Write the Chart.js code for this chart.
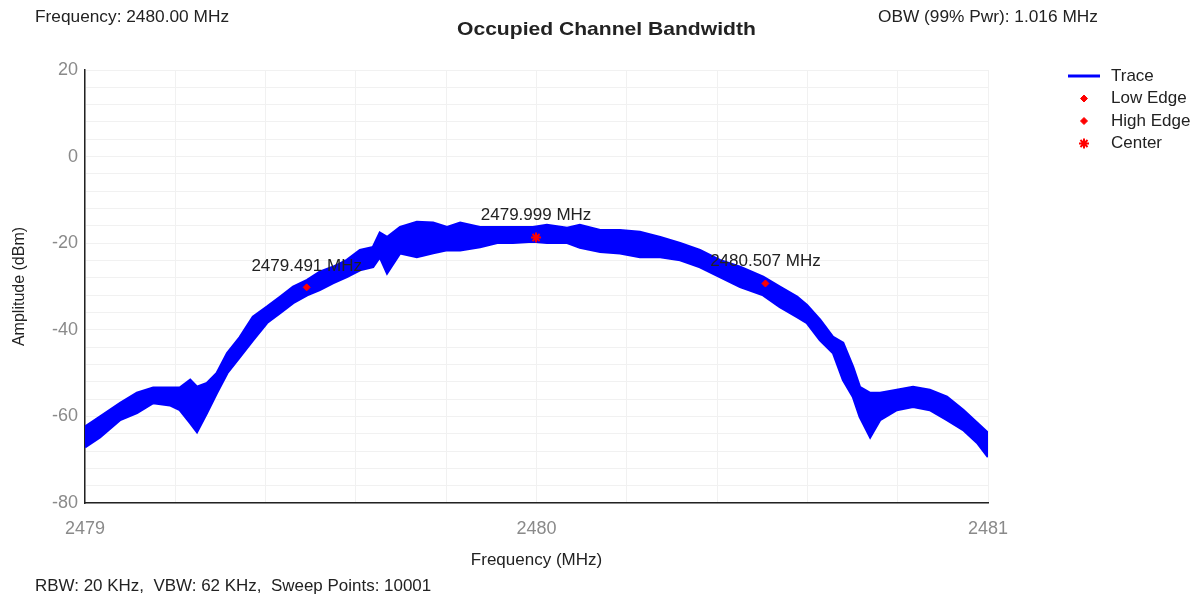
<!DOCTYPE html>
<html>
<head>
<meta charset="utf-8">
<script src="https://cdn.jsdelivr.net/npm/chart.js@4"></script>
<style>
  body { margin: 0; background: #fff; font-family: "Liberation Sans", Arial, sans-serif; }
  #wrap { position: relative; width: 1203px; height: 601px; }
  .txt { position: absolute; color: #222; white-space: pre; transform-origin: left center; }
  #freq { left: 35px; top: 8px; font-size: 16px; transform: scaleX(1.08); }
  #obw { left: 878px; top: 8px; font-size: 16px; transform: scaleX(1.08); }
  #title { left: 457px; top: 18px; font-size: 19px; font-weight: bold; transform: scaleX(1.11); }
  #foot { left: 35px; top: 577px; font-size: 16px; transform: scaleX(1.06); }
</style>
</head>
<body>
<div id="wrap">
  <canvas id="obwChart" width="1203" height="601"></canvas>
  <div class="txt" id="freq">Frequency: 2480.00 MHz</div>
  <div class="txt" id="title">Occupied Channel Bandwidth</div>
  <div class="txt" id="obw">OBW (99% Pwr): 1.016 MHz</div>
  <div class="txt" id="foot">RBW: 20 KHz,  VBW: 62 KHz,  Sweep Points: 10001</div>
</div>
<script>
// trace envelope (MHz, dBm top / bottom of the noisy band)
const traceFreq = [2479.000, 2479.033, 2479.078, 2479.115, 2479.151, 2479.188, 2479.210, 2479.233, 2479.248, 2479.270,
  2479.292, 2479.315, 2479.343, 2479.372, 2479.403, 2479.432, 2479.461, 2479.492, 2479.520, 2479.549,
  2479.580, 2479.609, 2479.638, 2479.653, 2479.669, 2479.698, 2479.735, 2479.771, 2479.802, 2479.831,
  2479.875, 2479.913, 2479.948, 2479.992, 2480.023, 2480.068, 2480.096, 2480.141, 2480.185, 2480.229,
  2480.274, 2480.318, 2480.362, 2480.406, 2480.451, 2480.502, 2480.539, 2480.577, 2480.599, 2480.628,
  2480.657, 2480.679, 2480.701, 2480.716, 2480.739, 2480.761, 2480.798, 2480.834, 2480.871, 2480.909,
  2480.945, 2480.976, 2481.000];
const traceHigh = [-62.4, -60.1, -56.9, -54.6, -53.4, -53.4, -53.4, -51.6, -53.2, -52.3,
  -50.0, -45.4, -41.7, -37.0, -34.7, -32.4, -30.1, -28.5, -26.6, -25.5,
  -23.9, -21.6, -20.9, -17.6, -18.6, -16.3, -15.1, -15.3, -16.3, -15.3,
  -16.3, -16.3, -16.3, -16.3, -15.8, -16.5, -15.8, -17.0, -17.0, -17.4,
  -18.6, -20.0, -21.6, -23.9, -25.5, -27.8, -30.1, -32.4, -34.3, -37.7,
  -41.7, -43.0, -48.6, -53.2, -54.6, -54.6, -53.9, -53.2, -53.9, -55.5,
  -58.5, -61.5, -63.8];
const traceLow = [-67.1, -64.8, -60.8, -59.2, -56.9, -57.4, -58.5, -61.5, -63.6, -59.2,
  -54.6, -50.0, -46.3, -42.4, -38.4, -36.1, -33.8, -32.0, -30.8, -29.2,
  -27.8, -26.2, -25.5, -23.2, -26.9, -22.3, -23.2, -22.3, -21.6, -21.6,
  -20.9, -19.9, -19.9, -19.6, -19.9, -19.9, -21.0, -22.0, -22.3, -23.2,
  -23.2, -23.9, -25.5, -27.8, -30.1, -32.0, -34.7, -37.0, -38.4, -42.4,
  -45.4, -51.6, -55.5, -60.1, -64.8, -60.8, -58.5, -57.8, -58.5, -60.8,
  -63.1, -66.1, -69.4];

// OBW markers
const markerNames = ['Low Edge', 'High Edge', 'Center'];
const markerFreq = [2479.491, 2480.507, 2479.999];
const markerAmp = [-30.2, -29.3, -18.7];
const markerText = ['2479.491 MHz', '2480.507 MHz', '2479.999 MHz'];

const xMajor = [2479, 2480, 2481];
const yMajor = [20, 0, -20, -40, -60, -80];

const TRACE_BLUE = '#0000ff';
const MARK_RED = '#ff0000';
const FONT = '"Liberation Sans", Arial, sans-serif';

const upper = traceFreq.map((f, i) => ({ x: f, y: traceHigh[i] }));
const lower = traceFreq.map((f, i) => ({ x: f, y: traceLow[i] }));

const markerSets = markerNames.map((name, i) => ({
  label: name,
  data: [{ x: markerFreq[i], y: markerAmp[i] }],
  showLine: false,
  pointStyle: name === 'Center' ? 'star' : 'rectRot',
  pointRadius: name === 'Center' ? 5 : 3.5,
  borderWidth: name === 'Center' ? 2 : 1,
  backgroundColor: MARK_RED,
  borderColor: MARK_RED
}));

// marker captions + side legend
const extras = {
  id: 'extras',
  afterDatasetsDraw(chart) {
    const ctx = chart.ctx;
    const xs = chart.scales.x, ys = chart.scales.y;
    ctx.save();
    ctx.font = '17px ' + FONT;
    ctx.fillStyle = '#222';
    ctx.textAlign = 'center';
    ctx.textBaseline = 'middle';
    markerText.forEach((t, i) => {
      const px = xs.getPixelForValue(markerFreq[i]);
      const py = ys.getPixelForValue(markerAmp[i]);
      ctx.fillText(t, px, py - (i === 0 ? 21 : 22));
    });

    // legend
    const lx = 1068, ly = 76, step = 22.5;
    ctx.textAlign = 'left';
    ctx.strokeStyle = TRACE_BLUE;
    ctx.lineWidth = 3;
    ctx.beginPath();
    ctx.moveTo(lx, ly);
    ctx.lineTo(lx + 32, ly);
    ctx.stroke();
    ctx.fillStyle = '#222';
    ctx.fillText('Trace', lx + 43, ly);
    markerSets.forEach((ds, i) => {
      const y = ly + step * (i + 1);
      ctx.fillStyle = MARK_RED;
      ctx.strokeStyle = MARK_RED;
      ctx.lineWidth = ds.borderWidth;
      Chart.helpers.drawPoint(ctx, { pointStyle: ds.pointStyle, radius: ds.pointRadius, rotation: 0, borderWidth: ds.borderWidth }, lx + 16, y);
      ctx.fillStyle = '#222';
      ctx.fillText(ds.label, lx + 43, y);
    });
    ctx.restore();
  }
};

new Chart(document.getElementById('obwChart'), {
  type: 'scatter',
  data: {
    datasets: [
      {
        label: 'Trace',
        data: upper,
        showLine: true,
        borderColor: TRACE_BLUE,
        backgroundColor: TRACE_BLUE,
        borderWidth: 2.5,
        pointRadius: 0,
        fill: '+1',
        order: 5
      },
      {
        label: 'trace-low',
        data: lower,
        showLine: true,
        borderColor: TRACE_BLUE,
        backgroundColor: TRACE_BLUE,
        borderWidth: 2.5,
        pointRadius: 0,
        fill: false,
        order: 5
      },
      ...markerSets
    ]
  },
  options: {
    responsive: false,
    animation: false,
    layout: { padding: { left: 0, top: 70, right: 215, bottom: 0 } },
    plugins: {
      legend: { display: false },
      tooltip: { enabled: false }
    },
    scales: {
      x: {
        type: 'linear',
        min: 2479,
        max: 2481,
        afterFit(scale) { scale.height = 98; },
        grid: { color: '#f1f1f1', drawTicks: false },
        border: { color: '#222', width: 1.5 },
        ticks: {
          stepSize: 0.2,
          autoSkip: false,
          maxRotation: 0,
          padding: 15,
          color: '#8a8a8a',
          font: { size: 18, family: FONT },
          callback: v => xMajor.some(m => Math.abs(m - v) < 1e-6) ? String(Math.round(v)) : ''
        },
        title: {
          display: true,
          text: 'Frequency (MHz)',
          color: '#222',
          font: { size: 17, family: FONT },
          padding: { top: 0, bottom: 30 }
        }
      },
      y: {
        min: -80,
        max: 20,
        afterFit(scale) { scale.width = 85; },
        grid: { color: '#f1f1f1', drawTicks: false },
        border: { color: '#222', width: 1.5 },
        ticks: {
          stepSize: 4,
          autoSkip: false,
          padding: 7,
          color: '#8a8a8a',
          font: { size: 18, family: FONT },
          callback: v => yMajor.includes(Math.round(v)) && Math.abs(v - Math.round(v)) < 1e-6 ? String(Math.round(v)) : ''
        },
        title: {
          display: true,
          text: 'Amplitude (dBm)',
          color: '#222',
          font: { size: 16, family: FONT },
          padding: { top: 10, bottom: 0 }
        }
      }
    }
  },
  plugins: [extras]
});
</script>
</body>
</html>
